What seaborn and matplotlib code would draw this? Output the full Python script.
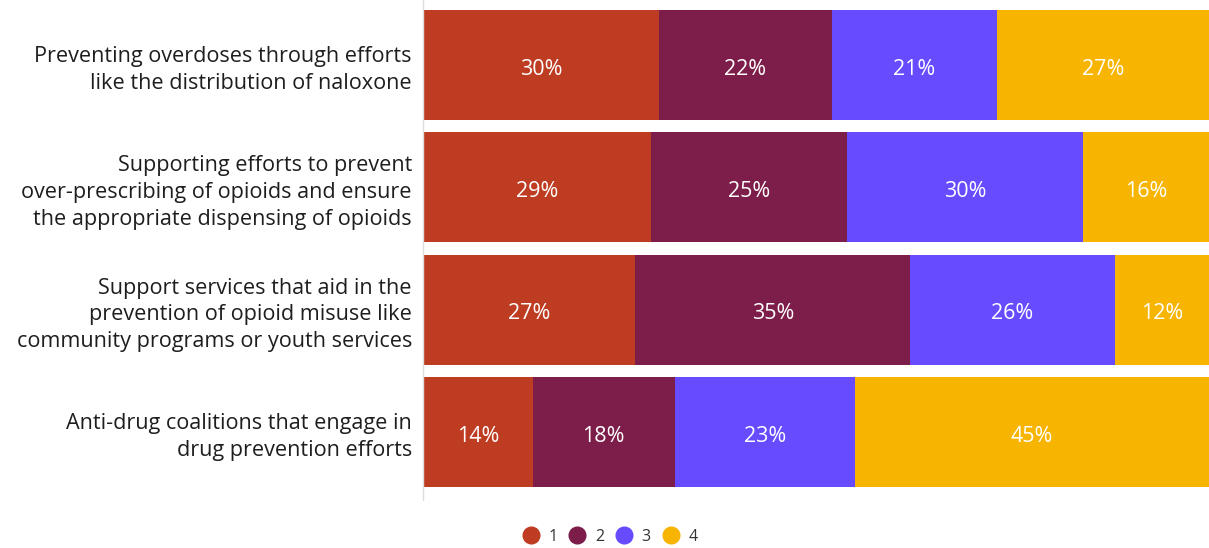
import matplotlib
matplotlib.use("Agg")
import matplotlib.pyplot as plt
from matplotlib.lines import Line2D
import numpy as np
import pandas as pd
import seaborn as sns

categories = [
    "Preventing overdoses through efforts\nlike the distribution of naloxone",
    "Supporting efforts to prevent\nover-prescribing of opioids and ensure\nthe appropriate dispensing of opioids",
    "Support services that aid in the\nprevention of opioid misuse like\ncommunity programs or youth services",
    "Anti-drug coalitions that engage in\ndrug prevention efforts",
]
series_names = ["1", "2", "3", "4"]
values_1 = [30, 29, 27, 14]
values_2 = [22, 25, 35, 18]
values_3 = [21, 30, 26, 23]
values_4 = [27, 16, 12, 45]
colors = ["#BE3D22", "#7D1D4A", "#664BFF", "#F7B400"]

sns.set_theme(style="white")
plt.rcParams["font.family"] = ["Open Sans", "DejaVu Sans"]

series = [values_1, values_2, values_3, values_4]
df = pd.DataFrame({"category": categories})
for name, vals in zip(series_names, series):
    df[name] = vals
cum = df[series_names].cumsum(axis=1)

fig = plt.figure(figsize=(12.09, 5.48), dpi=100)
ax = fig.add_axes([423 / 1209, 48 / 548, 1 - 423 / 1209, 500 / 548])

# Stacked bars: draw cumulative totals from the outermost segment inwards
for name, color in reversed(list(zip(series_names, colors))):
    sns.barplot(data=cum.assign(category=categories), x=name, y="category",
                order=categories, color=color, width=0.9, orient="h",
                saturation=1, ax=ax, edgecolor="none")

# Segment value labels
for i in range(len(categories)):
    left = 0
    for vals in series:
        v = vals[i]
        ax.text(left + v / 2, i + 0.015, f"{v}%", ha="center", va="center_baseline",
                color="white", fontsize=15.5)
        left += v

ax.set_xlim(0, 100)
ax.set_ylim(3.557, -0.531)
ax.set_xlabel("")
ax.set_ylabel("")
ax.set_xticks([])
ax.tick_params(axis="y", length=0, pad=8, labelsize=15.6, labelcolor="#1e1e1e")
for lbl in ax.get_yticklabels():
    lbl.set_horizontalalignment("right")
    lbl.set_linespacing(1.36)
for s in ["top", "right", "bottom"]:
    ax.spines[s].set_visible(False)
ax.spines["left"].set_color("#dddddd")
ax.spines["left"].set_linewidth(1)

handles = [Line2D([0], [0], marker="o", linestyle="", markersize=12,
                  markerfacecolor=c, markeredgecolor=c) for c in colors]
fig.legend(handles, series_names, loc="center", bbox_to_anchor=(606 / 1209, 1 - 537 / 548),
           ncol=4, frameon=False, fontsize=11.5, handletextpad=0.1, columnspacing=0.25,
           labelcolor="#333333")

fig.savefig("out.png", dpi=100)
